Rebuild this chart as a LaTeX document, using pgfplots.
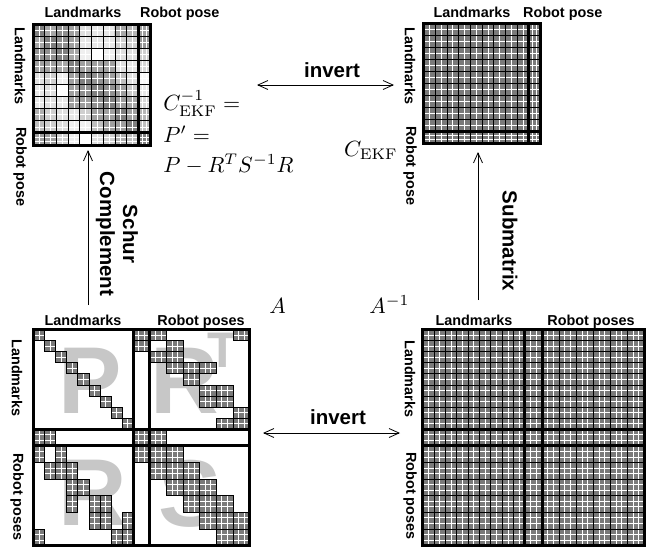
\documentclass[border=0pt]{standalone}
\usepackage{fontspec}
\usepackage{pgfplots}
\pgfplotsset{compat=1.18}
\usetikzlibrary{arrows.meta}
\newfontfamily\hv{Liberation Sans}
\newcommand\lab{\hv\bfseries\fontsize{14.4}{16}\selectfont}
\newcommand\blab{\hv\bfseries\fontsize{20.5}{23}\selectfont}
\newcommand\letfont{\hv\bfseries\fontsize{95}{100}\selectfont}
\newcommand\supfont{\hv\bfseries\fontsize{50}{55}\selectfont}
\colorlet{cellgray}{black!52}
\colorlet{letgray}{black!22}
\tikzset{mth/.style={scale=2.2, inner sep=0}}
\pgfplotsset{
  mat/.style={hide axis, scale only axis, clip=false, y dir=reverse, anchor=north west},
  wl/.style={white, line width=0.7pt},
  bl/.style={black, line width=0.7pt},
  tk/.style={black, line width=3pt},
  bd/.style={black, line width=3pt, line join=miter},
}
% one non-zero block of the sparse matrix A
\newcommand\Acell[4]{%
  \pgfmathsetmacro\xa{#1+1}\pgfmathsetmacro\xb{#3-1}%
  \pgfmathsetmacro\ya{#2+1}\pgfmathsetmacro\yb{#4-1}%
  \addplot[fill=cellgray,draw=none] coordinates {(#1,#2)(#3,#2)(#3,#4)(#1,#4)} --cycle;
  \addplot[wl] coordinates {(\xa,#2)(\xa,#4)(\xb,#4)(\xb,#2)(#1,#2)(#1,\ya)(#3,\ya)(#3,\yb)(#1,\yb)};
  \addplot[bl] coordinates {(#1,#2)(#3,#2)(#3,#4)(#1,#4)} --cycle;
}
% grid of the two small (10 x 10 block) matrices
\newcommand\topgrid{%
  \addplot[wl] coordinates {(0.5,0)(0.5,10)(1.5,10)(1.5,0)(2.5,0)(2.5,10)(3.5,10)(3.5,0)(4.5,0)(4.5,10)(5.5,10)(5.5,0)(6.5,0)(6.5,10)(7.5,10)(7.5,0)(8.5,0)(8.5,10)(9.333,10)(9.333,0)(9.667,0)(9.667,10)};
  \addplot[wl] coordinates {(0,0.5)(10,0.5)(10,1.5)(0,1.5)(0,2.5)(10,2.5)(10,3.5)(0,3.5)(0,4.5)(10,4.5)(10,5.5)(0,5.5)(0,6.5)(10,6.5)(10,7.5)(0,7.5)(0,8.5)(10,8.5)(10,9.333)(0,9.333)(0,9.667)(10,9.667)};
  \addplot[bl] coordinates {(1,0)(1,10)(2,10)(2,0)(3,0)(3,10)(4,10)(4,0)(5,0)(5,10)(6,10)(6,0)(7,0)(7,10)(8,10)(8,0)};
  \addplot[bl] coordinates {(0,1)(10,1)(10,2)(0,2)(0,3)(10,3)(10,4)(0,4)(0,5)(10,5)(10,6)(0,6)(0,7)(10,7)(10,8)(0,8)};
  \addplot[tk] coordinates {(9,0)(9,10)};
  \addplot[tk] coordinates {(0,9)(10,9)};
  \addplot[bd] coordinates {(0,0)(10,0)(10,10)(0,10)} --cycle;
}
\begin{document}
\begin{tikzpicture}
\useasboundingbox (0pt,0pt) rectangle (648pt,-547pt);

% ---------- big background letters of A ----------
\node[anchor=base west, inner sep=0, text=letgray, font=\letfont] at (58pt,-413pt) {P};
\node[anchor=base west, inner sep=0, text=letgray, font=\letfont] at (150pt,-413pt) {R};
\node[anchor=base west, inner sep=0, text=letgray, font=\supfont] at (207pt,-367pt) {T};
\node[anchor=base west, inner sep=0, text=letgray, font=\letfont] at (58pt,-525pt) {R};
\node[anchor=base west, inner sep=0, text=letgray, font=\letfont] at (158pt,-526pt) {S};

% ---------- top left: C_EKF^{-1} ----------
\begin{axis}[mat, at={(33pt,-24pt)}, width=117pt, height=121pt,
  xmin=0, xmax=10, ymin=0, ymax=10,
  colormap={wg}{color(0)=(white) color(1)=(black!62)},
  point meta min=0, point meta max=1]
\addplot[matrix plot*, mesh/cols=10, point meta=explicit] coordinates {
(0.5,0.5)[.80] (1.5,0.5)[.55] (2.5,0.5)[.70] (3.5,0.5)[.60] (4.5,0.5)[.20] (5.5,0.5)[.15] (6.5,0.5)[.15] (7.5,0.5)[.55] (8.5,0.5)[.45] (9.5,0.5)[.60]
(0.5,1.5)[.55] (1.5,1.5)[.80] (2.5,1.5)[.70] (3.5,1.5)[.60] (4.5,1.5)[.15] (5.5,1.5)[.15] (6.5,1.5)[.15] (7.5,1.5)[.30] (8.5,1.5)[.30] (9.5,1.5)[.65]
(0.5,2.5)[.70] (1.5,2.5)[.70] (2.5,2.5)[.80] (3.5,2.5)[.55] (4.5,2.5)[.10] (5.5,2.5)[.00] (6.5,2.5)[.10] (7.5,2.5)[.20] (8.5,2.5)[.20] (9.5,2.5)[.30]
(0.5,3.5)[.60] (1.5,3.5)[.60] (2.5,3.5)[.55] (3.5,3.5)[.80] (4.5,3.5)[.60] (5.5,3.5)[.60] (6.5,3.5)[.60] (7.5,3.5)[.20] (8.5,3.5)[.15] (9.5,3.5)[.25]
(0.5,4.5)[.20] (1.5,4.5)[.30] (2.5,4.5)[.10] (3.5,4.5)[.60] (4.5,4.5)[.80] (5.5,4.5)[.70] (6.5,4.5)[.60] (7.5,4.5)[.40] (8.5,4.5)[.20] (9.5,4.5)[.05]
(0.5,5.5)[.15] (1.5,5.5)[.20] (2.5,5.5)[.00] (3.5,5.5)[.60] (4.5,5.5)[.70] (5.5,5.5)[.80] (6.5,5.5)[.70] (7.5,5.5)[.60] (8.5,5.5)[.35] (9.5,5.5)[.15]
(0.5,6.5)[.15] (1.5,6.5)[.20] (2.5,6.5)[.15] (3.5,6.5)[.60] (4.5,6.5)[.60] (5.5,6.5)[.70] (6.5,6.5)[.80] (7.5,6.5)[.60] (8.5,6.5)[.55] (9.5,6.5)[.25]
(0.5,7.5)[.50] (1.5,7.5)[.30] (2.5,7.5)[.20] (3.5,7.5)[.15] (4.5,7.5)[.30] (5.5,7.5)[.60] (6.5,7.5)[.60] (7.5,7.5)[.80] (8.5,7.5)[.60] (9.5,7.5)[.45]
(0.5,8.5)[.40] (1.5,8.5)[.30] (2.5,8.5)[.20] (3.5,8.5)[.10] (4.5,8.5)[.10] (5.5,8.5)[.40] (6.5,8.5)[.60] (7.5,8.5)[.60] (8.5,8.5)[.80] (9.5,8.5)[.40]
(0.5,9.5)[.60] (1.5,9.5)[.60] (2.5,9.5)[.30] (3.5,9.5)[.10] (4.5,9.5)[.00] (5.5,9.5)[.20] (6.5,9.5)[.30] (7.5,9.5)[.50] (8.5,9.5)[.40] (9.5,9.5)[.80]
};
\topgrid
\end{axis}

% ---------- top right: C_EKF ----------
\begin{axis}[mat, at={(423.5pt,-23pt)}, width=117pt, height=120pt,
  xmin=0, xmax=10, ymin=0, ymax=10]
\addplot[fill=cellgray, draw=none] coordinates {(0,0)(10,0)(10,10)(0,10)} --cycle;
\topgrid
\end{axis}

% ---------- bottom left: sparse A ----------
\begin{axis}[mat, at={(33.5pt,-329.5pt)}, width=216pt, height=216pt,
  xmin=0, xmax=39, ymin=0, ymax=39]
% P (landmarks x landmarks): block diagonal
\Acell{0}{0}{2}{2}\Acell{2}{2}{4}{4}\Acell{4}{4}{6}{6}\Acell{6}{6}{8}{8}\Acell{8}{8}{10}{10}
\Acell{10}{10}{12}{12}\Acell{12}{12}{14}{14}\Acell{14}{14}{16}{16}\Acell{16}{16}{18}{18}
% current pose column / row
\Acell{18}{0}{21}{2}\Acell{18}{2}{21}{4}\Acell{18}{18}{21}{21}\Acell{18}{21}{21}{24}
\Acell{0}{18}{2}{21}\Acell{2}{18}{4}{21}\Acell{21}{18}{24}{21}
% R^T (landmarks x robot poses)
\Acell{21}{0}{24}{2}\Acell{36}{0}{39}{2}\Acell{24}{2}{27}{4}\Acell{21}{4}{24}{6}\Acell{24}{4}{27}{6}
\Acell{24}{6}{27}{8}\Acell{27}{6}{30}{8}\Acell{30}{6}{33}{8}\Acell{27}{8}{30}{10}
\Acell{30}{10}{33}{12}\Acell{33}{10}{36}{12}\Acell{30}{12}{33}{14}\Acell{33}{12}{36}{14}
\Acell{36}{14}{39}{16}\Acell{33}{16}{36}{18}\Acell{36}{16}{39}{18}
% R (robot poses x landmarks)
\Acell{0}{21}{2}{24}\Acell{0}{36}{2}{39}\Acell{2}{24}{4}{27}\Acell{4}{21}{6}{24}\Acell{4}{24}{6}{27}
\Acell{6}{24}{8}{27}\Acell{6}{27}{8}{30}\Acell{6}{30}{8}{33}\Acell{8}{27}{10}{30}
\Acell{10}{30}{12}{33}\Acell{10}{33}{12}{36}\Acell{12}{30}{14}{33}\Acell{12}{33}{14}{36}
\Acell{14}{36}{16}{39}\Acell{16}{33}{18}{36}\Acell{16}{36}{18}{39}
% S (robot poses x robot poses): tridiagonal
\Acell{21}{21}{24}{24}\Acell{24}{21}{27}{24}
\Acell{21}{24}{24}{27}\Acell{24}{24}{27}{27}\Acell{27}{24}{30}{27}
\Acell{24}{27}{27}{30}\Acell{27}{27}{30}{30}\Acell{30}{27}{33}{30}
\Acell{27}{30}{30}{33}\Acell{30}{30}{33}{33}\Acell{33}{30}{36}{33}
\Acell{30}{33}{33}{36}\Acell{33}{33}{36}{36}\Acell{36}{33}{39}{36}
\Acell{33}{36}{36}{39}\Acell{36}{36}{39}{39}
\addplot[tk] coordinates {(18,0)(18,39)};
\addplot[tk] coordinates {(21,0)(21,39)};
\addplot[tk] coordinates {(0,18)(39,18)};
\addplot[tk] coordinates {(0,21)(39,21)};
\addplot[bd] coordinates {(0,0)(39,0)(39,39)(0,39)} --cycle;
\end{axis}

% ---------- bottom right: dense A^{-1} ----------
\begin{axis}[mat, at={(422.5pt,-329.5pt)}, width=222pt, height=216pt,
  xmin=0, xmax=39, ymin=0, ymax=39]
\addplot[fill=cellgray, draw=none] coordinates {(0,0)(39,0)(39,39)(0,39)} --cycle;
\addplot[wl] coordinates {(1,0)(1,39)(3,39)(3,0)(5,0)(5,39)(7,39)(7,0)(9,0)(9,39)(11,39)(11,0)(13,0)(13,39)(15,39)(15,0)(17,0)(17,39)(19,39)(19,0)(20,0)(20,39)(22,39)(22,0)(23,0)(23,39)(25,39)(25,0)(26,0)(26,39)(28,39)(28,0)(29,0)(29,39)(31,39)(31,0)(32,0)(32,39)(34,39)(34,0)(35,0)(35,39)(37,39)(37,0)(38,0)(38,39)};
\addplot[wl] coordinates {(0,1)(39,1)(39,3)(0,3)(0,5)(39,5)(39,7)(0,7)(0,9)(39,9)(39,11)(0,11)(0,13)(39,13)(39,15)(0,15)(0,17)(39,17)(39,19)(0,19)(0,20)(39,20)(39,22)(0,22)(0,23)(39,23)(39,25)(0,25)(0,26)(39,26)(39,28)(0,28)(0,29)(39,29)(39,31)(0,31)(0,32)(39,32)(39,34)(0,34)(0,35)(39,35)(39,37)(0,37)(0,38)(39,38)};
\addplot[bl] coordinates {(2,0)(2,39)(4,39)(4,0)(6,0)(6,39)(8,39)(8,0)(10,0)(10,39)(12,39)(12,0)(14,0)(14,39)(16,39)(16,0)(24,0)(24,39)(27,39)(27,0)(30,0)(30,39)(33,39)(33,0)(36,0)(36,39)};
\addplot[bl] coordinates {(0,2)(39,2)(39,4)(0,4)(0,6)(39,6)(39,8)(0,8)(0,10)(39,10)(39,12)(0,12)(0,14)(39,14)(39,16)(0,16)(0,24)(39,24)(39,27)(0,27)(0,30)(39,30)(39,33)(0,33)(0,36)(39,36)};
\addplot[tk] coordinates {(18,0)(18,39)};
\addplot[tk] coordinates {(21,0)(21,39)};
\addplot[tk] coordinates {(0,18)(39,18)};
\addplot[tk] coordinates {(0,21)(39,21)};
\addplot[bd] coordinates {(0,0)(39,0)(39,39)(0,39)} --cycle;
\end{axis}

% ---------- block labels ----------
\node[anchor=base, inner sep=0, font=\lab] at (83pt,-17pt) {Landmarks};
\node[anchor=base west, inner sep=0, font=\lab] at (140pt,-17pt) {Robot pose};
\node[rotate=-90, inner sep=0, font=\lab] at (20pt,-66pt) {Landmarks};
\node[rotate=-90, anchor=west, inner sep=0, font=\lab] at (20pt,-127pt) {Robot pose};

\node[anchor=base, inner sep=0, font=\lab] at (472pt,-17pt) {Landmarks};
\node[anchor=base west, inner sep=0, font=\lab] at (523pt,-17pt) {Robot pose};
\node[rotate=-90, inner sep=0, font=\lab] at (410pt,-66pt) {Landmarks};
\node[rotate=-90, anchor=west, inner sep=0, font=\lab] at (410pt,-126pt) {Robot pose};

\node[anchor=base, inner sep=0, font=\lab] at (83pt,-325pt) {Landmarks};
\node[anchor=base, inner sep=0, font=\lab] at (201pt,-325pt) {Robot poses};
\node[rotate=-90, inner sep=0, font=\lab] at (17pt,-378pt) {Landmarks};
\node[rotate=-90, anchor=west, inner sep=0, font=\lab] at (17pt,-453pt) {Robot poses};

\node[anchor=base, inner sep=0, font=\lab] at (474pt,-325pt) {Landmarks};
\node[anchor=base, inner sep=0, font=\lab] at (591pt,-325pt) {Robot poses};
\node[rotate=-90, inner sep=0, font=\lab] at (410pt,-379pt) {Landmarks};
\node[rotate=-90, anchor=west, inner sep=0, font=\lab] at (410pt,-452pt) {Robot poses};

% ---------- formulas ----------
\node[mth, anchor=base west] at (163pt,-110pt) {$C^{-1}_{\mathrm{EKF}} =$};
\node[mth, anchor=base west] at (163pt,-142pt) {$P' =$};
\node[mth, anchor=base west] at (163pt,-172pt) {$P - R^T S^{-1} R$};
\node[mth, anchor=base east] at (398pt,-156pt) {$C_{\mathrm{EKF}}$};
\node[mth, anchor=base west] at (269pt,-313pt) {$A$};
\node[mth, anchor=base west] at (369pt,-313pt) {$A^{-1}$};

% ---------- arrows ----------
\tikzset{barb/.style={line width=0.8pt}}
\draw[barb, {Straight Barb[length=10pt,width=9pt]}-{Straight Barb[length=10pt,width=9pt]}] (257pt,-85pt) -- (394pt,-85pt);
\node[font=\blab, inner sep=0] at (332pt,-70pt) {invert};
\draw[barb, {Straight Barb[length=10pt,width=9pt]}-{Straight Barb[length=10pt,width=9pt]}] (263pt,-433pt) -- (400pt,-433pt);
\node[font=\blab, inner sep=0] at (338pt,-417pt) {invert};
\draw[barb, -{Straight Barb[length=10pt,width=9pt]}] (88pt,-305pt) -- (88pt,-150pt);
\draw[barb, -{Straight Barb[length=10pt,width=9pt]}] (478pt,-300pt) -- (478pt,-152pt);
\node[rotate=-90, align=center, font=\blab, inner sep=0] at (117pt,-234pt) {Schur\\Complement};
\node[rotate=-90, font=\blab, inner sep=0] at (510pt,-241pt) {Submatrix};
\end{tikzpicture}
\end{document}
